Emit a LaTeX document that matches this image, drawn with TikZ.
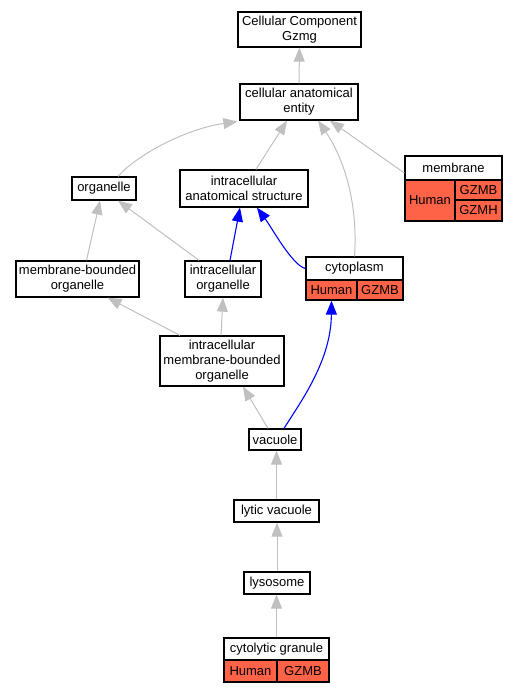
\documentclass[tikz,border=0pt]{standalone}
\usepackage{fontspec}
\setmainfont{Liberation Sans}
\usetikzlibrary{arrows.meta}
\definecolor{tomato}{RGB}{255,99,71}
\definecolor{isagray}{RGB}{192,192,192}

\tikzset{
  term/.style={draw=black, line width=1.3pt, fill=white, align=center, inner sep=0pt, font=\fontsize{13}{15}\selectfont},
  cell/.style={term, fill=tomato},
  isa/.style={isagray, line width=1pt, -{Triangle[length=14pt,width=11pt]}},
  partof/.style={blue, line width=1.1pt, -{Triangle[length=14pt,width=11pt]}}
}

\begin{document}
\begin{tikzpicture}[x=1pt,y=-1pt]
        \useasboundingbox (0,0) rectangle (517,693);

        \node[term, minimum width=123pt, minimum height=35pt] (cc) at (299.5,29.5) {Cellular Component\\Gzmg};
        \node[term, minimum width=118pt, minimum height=36pt] (cae) at (299,102) {cellular anatomical\\entity};
        \node[term, minimum width=64pt, minimum height=23pt] (org) at (104,188.5) {organelle};
        \node[term, minimum width=128pt, minimum height=37pt] (ias) at (244,188.5) {intracellular\\anatomical structure};
        \node[term, minimum width=123pt, minimum height=36pt] (mbo) at (77.5,279) {membrane-bounded\\organelle};
        \node[term, minimum width=76pt, minimum height=36pt] (io) at (223,279) {intracellular\\organelle};
        \node[term, minimum width=124pt, minimum height=50pt] (imbo) at (222,361) {intracellular\\membrane-bounded\\organelle};
        \node[term, minimum width=52pt, minimum height=21pt] (vac) at (275,439.5) {vacuole};
        \node[term, minimum width=85pt, minimum height=22pt] (lv) at (276.5,511) {lytic vacuole};
        \node[term, minimum width=66pt, minimum height=22pt] (lys) at (277,583) {lysosome};

        % membrane with its annotations
        \node[term, minimum width=97pt, minimum height=24pt] (memb) at (453.5,168) {membrane};
        \node[cell, minimum width=50pt, minimum height=41pt] (membH) at (430,200.5) {Human};
        \node[cell, minimum width=47pt, minimum height=20pt] (membG) at (478.5,190) {GZMB};
        \node[cell, minimum width=47pt, minimum height=21pt] (membM) at (478.5,210.5) {GZMH};

        % cytoplasm
        \node[term, minimum width=97pt, minimum height=23pt] (cyto) at (354.5,268.5) {cytoplasm};
        \node[cell, minimum width=51pt, minimum height=20pt] (cytoH) at (331.5,290) {Human};
        \node[cell, minimum width=46pt, minimum height=20pt] (cytoG) at (380,290) {GZMB};

        % cytolytic granule
        \node[term, minimum width=105pt, minimum height=22pt] (cg) at (276.5,649) {cytolytic granule};
        \node[cell, minimum width=53pt, minimum height=22pt] (cgH) at (250.5,671) {Human};
        \node[cell, minimum width=52pt, minimum height=22pt] (cgG) at (303,671) {GZMB};

        % is_a edges
        \draw[isa] (cae) -- (cc);
        \draw[isa] ([xshift=14pt]org.north) .. controls (140,152) and (190,128) .. ([xshift=-2pt,yshift=-1pt]cae.south west);
        \draw[isa] ([xshift=12pt]ias.north) -- ([xshift=-12pt]cae.south);
        \draw[isa] ([yshift=-5pt]memb.west) -- ([xshift=31pt]cae.south);
        \draw[isa] (cyto.north) .. controls (358,205) and (345,160) .. ([xshift=19pt]cae.south);
        \draw[isa] ([xshift=9pt]mbo.north) -- ([xshift=-4pt]org.south);
        \draw[isa] ([xshift=-24pt]io.north) -- ([xshift=14pt]org.south);
        \draw[isa] ([xshift=-42pt]imbo.north) -- ([xshift=30pt]mbo.south);
        \draw[isa] ([xshift=-1pt]imbo.north) -- (io.south);
        \draw[isa] ([xshift=-7pt]vac.north) -- ([xshift=21pt]imbo.south);
        \draw[isa] (lv.north) -- (lv.north |- vac.south);
        \draw[isa] (lys.north) -- (lys.north |- lv.south);
        \draw[isa] (cg.north) -- (cg.north |- lys.south);

        % part_of edges
        \draw[partof] ([xshift=7pt]io.north) -- ([xshift=-4pt]ias.south);
        \draw[partof] (cyto.west) .. controls (292,265) and (272,228) .. ([xshift=13pt]ias.south);
        \draw[partof] ([xshift=9pt]vac.north) .. controls (302,400) and (331,360) .. (cytoH.south);
\end{tikzpicture}
\end{document}
